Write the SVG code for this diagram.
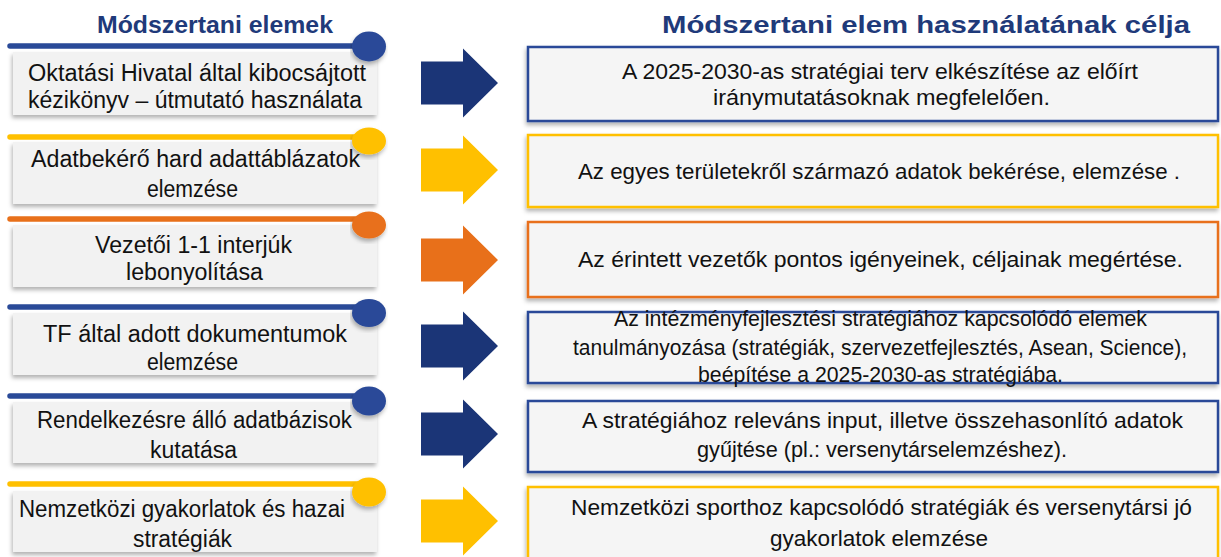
<svg xmlns="http://www.w3.org/2000/svg" width="1221" height="557" viewBox="0 0 1221 557">
<defs>
<style>
.hdr{font-family:"Liberation Sans",Arial,sans-serif;font-weight:bold;font-size:24.5px;fill:#1F3A7A}
.lt{font-family:"Liberation Sans",Arial,sans-serif;font-size:23.5px;fill:#111}
.rt{font-family:"Liberation Sans",Arial,sans-serif;font-size:22px;fill:#111}
.lbox{fill:#F2F2F2;filter:url(#sh)}
.rbox{fill:#F5F5F5;stroke-width:2.5;filter:url(#sh)}
.navy{stroke:#2A4A98}
.yel{stroke:#FFC000}
.ora{stroke:#E8701A}
.line{stroke-width:5.5;stroke-linecap:round;fill:none}
</style>
<filter id="sh" x="-5%" y="-10%" width="110%" height="130%">
<feDropShadow dx="-1" dy="3" stdDeviation="2" flood-color="#000" flood-opacity="0.3"/>
</filter>
<path id="arr" d="M0,-21.5 H42 V-34.5 L77,0 L42,34.5 V21.5 H0 Z"/>
</defs>

<g id="headers">
<text class="hdr" x="97" y="33" textLength="236" lengthAdjust="spacingAndGlyphs">Módszertani elemek</text>
<text class="hdr" x="662" y="33" textLength="528" lengthAdjust="spacingAndGlyphs">Módszertani elem használatának célja</text>
</g>

<g id="left1">
<rect class="lbox" x="13" y="52" width="364" height="63"/>
<line class="line navy" x1="10" y1="46" x2="366" y2="46"/>
<ellipse cx="369" cy="46.5" rx="17" ry="15" fill="#2A4A98" filter="url(#sh)"/>
<text class="lt" x="28" y="81" textLength="338" lengthAdjust="spacingAndGlyphs">Oktatási Hivatal által kibocsájtott</text>
<text class="lt" x="28" y="108" textLength="334" lengthAdjust="spacingAndGlyphs">kézikönyv – útmutató használata</text>
</g>
<g id="left2">
<rect class="lbox" x="13" y="142" width="364" height="62"/>
<line class="line yel" x1="10" y1="137" x2="366" y2="137"/>
<ellipse cx="369" cy="141" rx="17" ry="13.5" fill="#FFC000" filter="url(#sh)"/>
<text class="lt" x="31" y="167" textLength="329" lengthAdjust="spacingAndGlyphs">Adatbekérő hard adattáblázatok</text>
<text class="lt" x="147" y="197" textLength="91" lengthAdjust="spacingAndGlyphs">elemzése</text>
</g>
<g id="left3">
<rect class="lbox" x="13" y="225" width="364" height="62"/>
<line class="line ora" x1="10" y1="219" x2="366" y2="219"/>
<ellipse cx="369" cy="225" rx="17" ry="13.5" fill="#E8701A" filter="url(#sh)"/>
<text class="lt" x="95" y="253" textLength="197" lengthAdjust="spacingAndGlyphs">Vezetői 1-1 interjúk</text>
<text class="lt" x="126" y="280" textLength="137" lengthAdjust="spacingAndGlyphs">lebonyolítása</text>
</g>
<g id="left4">
<rect class="lbox" x="13" y="313" width="364" height="62"/>
<line class="line navy" x1="10" y1="307" x2="366" y2="307"/>
<ellipse cx="369" cy="313" rx="17" ry="14" fill="#2A4A98" filter="url(#sh)"/>
<text class="lt" x="43" y="342" textLength="304" lengthAdjust="spacingAndGlyphs">TF által adott dokumentumok</text>
<text class="lt" x="147" y="370" textLength="91" lengthAdjust="spacingAndGlyphs">elemzése</text>
</g>
<g id="left5">
<rect class="lbox" x="13" y="402" width="364" height="61"/>
<line class="line navy" x1="10" y1="396" x2="366" y2="396"/>
<ellipse cx="369" cy="401" rx="17" ry="14.5" fill="#2A4A98" filter="url(#sh)"/>
<text class="lt" x="37" y="428" textLength="315" lengthAdjust="spacingAndGlyphs">Rendelkezésre álló adatbázisok</text>
<text class="lt" x="150" y="458" textLength="87" lengthAdjust="spacingAndGlyphs">kutatása</text>
</g>
<g id="left6">
<rect class="lbox" x="13" y="491" width="364" height="61"/>
<line class="line yel" x1="10" y1="484" x2="366" y2="484"/>
<ellipse cx="369" cy="492" rx="17" ry="14.5" fill="#FFC000" filter="url(#sh)"/>
<text class="lt" x="19" y="517" textLength="326" lengthAdjust="spacingAndGlyphs">Nemzetközi gyakorlatok és hazai</text>
<text class="lt" x="133" y="547" textLength="99" lengthAdjust="spacingAndGlyphs">stratégiák</text>
</g>

<g id="connectors">
<use href="#arr" transform="translate(421,83)" fill="#1B3577"/>
<use href="#arr" transform="translate(421,170)" fill="#FFC000"/>
<use href="#arr" transform="translate(421,260)" fill="#E8701A"/>
<use href="#arr" transform="translate(421,346)" fill="#1B3577"/>
<use href="#arr" transform="translate(421,434)" fill="#1B3577"/>
<use href="#arr" transform="translate(421,521)" fill="#FFC000"/>
</g>

<g id="right1">
<rect class="rbox navy" x="528" y="47" width="690" height="74"/>
<text class="rt" x="622" y="79" textLength="516" lengthAdjust="spacingAndGlyphs">A 2025-2030-as stratégiai terv elkészítése az előírt</text>
<text class="rt" x="713" y="105" textLength="337" lengthAdjust="spacingAndGlyphs">iránymutatásoknak megfelelően.</text>
</g>
<g id="right2">
<rect class="rbox yel" x="528" y="135" width="690" height="72"/>
<text class="rt" x="578" y="179" textLength="602" lengthAdjust="spacingAndGlyphs">Az egyes területekről származó adatok bekérése, elemzése .</text>
</g>
<g id="right3">
<rect class="rbox ora" x="528" y="222" width="690" height="75"/>
<text class="rt" x="578" y="267" textLength="605" lengthAdjust="spacingAndGlyphs">Az érintett vezetők pontos igényeinek, céljainak megértése.</text>
</g>
<g id="right4">
<rect class="rbox navy" x="528" y="312" width="690" height="71"/>
<text class="rt" x="614" y="326" textLength="533" lengthAdjust="spacingAndGlyphs">Az intézményfejlesztési stratégiához kapcsolódó elemek</text>
<text class="rt" x="573" y="355" textLength="614" lengthAdjust="spacingAndGlyphs">tanulmányozása (stratégiák, szervezetfejlesztés, Asean, Science),</text>
<text class="rt" x="698" y="382" textLength="365" lengthAdjust="spacingAndGlyphs">beépítése a 2025-2030-as stratégiába.</text>
</g>
<g id="right5">
<rect class="rbox navy" x="528" y="401" width="690" height="71"/>
<text class="rt" x="582" y="428" textLength="601" lengthAdjust="spacingAndGlyphs">A stratégiához releváns input, illetve összehasonlító adatok</text>
<text class="rt" x="697" y="457" textLength="370" lengthAdjust="spacingAndGlyphs">gyűjtése (pl.: versenytárselemzéshez).</text>
</g>
<g id="right6">
<rect class="rbox yel" x="528" y="487" width="690" height="72"/>
<text class="rt" x="571" y="515" textLength="621" lengthAdjust="spacingAndGlyphs">Nemzetközi sporthoz kapcsolódó stratégiák és versenytársi jó</text>
<text class="rt" x="770" y="546" textLength="218" lengthAdjust="spacingAndGlyphs">gyakorlatok elemzése</text>
</g>
</svg>
